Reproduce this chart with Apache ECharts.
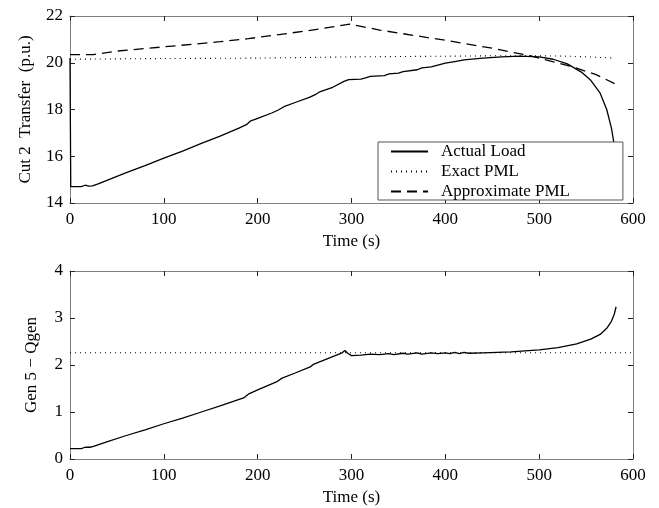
<!DOCTYPE html>
<html><head><meta charset="utf-8">
<script src="https://cdn.jsdelivr.net/npm/echarts@6/dist/echarts.min.js"></script>
<style>html,body{margin:0;padding:0;background:#fff}#c{width:659px;height:508px}</style>
</head><body><div id="c"></div>
<script>
// Top panel: Cut 2 Transfer (p.u.)
const loadT = [0,0.8,12,16,18,20,24,30,40,60,80,100,120,140,160,180,188,192,200,215,222,228,240,255,262,266,280,292,297,310,315,320,335,340,350,355,370,375,385,390,400,410,420,440,460,480,500,515,530,545,555,565,572,577,580,583];
const loadV = [20.2,14.7,14.7,14.76,14.78,14.72,14.73,14.82,14.98,15.3,15.6,15.92,16.22,16.55,16.86,17.2,17.35,17.5,17.62,17.85,17.98,18.12,18.3,18.52,18.65,18.75,18.95,19.2,19.28,19.3,19.35,19.42,19.45,19.52,19.56,19.62,19.7,19.78,19.82,19.88,19.98,20.05,20.12,20.2,20.25,20.28,20.25,20.15,19.95,19.6,19.25,18.7,18.0,17.2,16.5,15.5];
const exactT = [0,100,200,300,400,470,530,580];
const exactV = [20.15,20.18,20.2,20.25,20.28,20.3,20.28,20.2];
const approxT = [0,25,50,100,160,190,250,298,330,387,400,450,490,536,560,581];
const approxV = [20.35,20.35,20.5,20.68,20.9,21.03,21.35,21.65,21.4,21.04,20.96,20.62,20.3,19.82,19.5,19.1];
// Bottom panel: Gen 5 - Qgen
const qgenT = [0,12,16,18,21,25,40,60,80,100,120,140,160,185,190,200,220,226,240,256,260,280,290,293,296,300,310,320,330,340,345,355,360,370,375,385,392,400,405,410,415,420,425,440,470,500,520,540,555,565,572,577,580,582];
const qgenV = [0.22,0.22,0.25,0.27,0.25,0.27,0.37,0.5,0.62,0.75,0.87,1.0,1.13,1.3,1.38,1.47,1.64,1.72,1.83,1.96,2.02,2.18,2.26,2.31,2.25,2.2,2.21,2.23,2.22,2.24,2.22,2.25,2.23,2.26,2.23,2.26,2.24,2.26,2.24,2.27,2.24,2.27,2.25,2.26,2.28,2.32,2.37,2.45,2.55,2.65,2.78,2.93,3.08,3.24];
const qlimT = [0,600];
const qlimV = [2.26,2.26];
const xTicks = [0,100,200,300,400,500,600];
const topYTicks = [14,16,18,20,22];
const botYTicks = [0,1,2,3,4];
const legendNames = ['Actual Load','Exact PML','Approximate PML'];

const zip = (a,b) => a.map((t,i)=>[t,b[i]]);
const FONT = 'Liberation Serif';
const txt = {color:'#000', fontFamily:FONT, fontSize:17};
const boxLine = () => ({show:true, onZero:false, lineStyle:{color:'#808080', width:1}});
const tick = () => ({show:true, inside:true, length:5, lineStyle:{color:'#222', width:1}});

function xAx(grid, name, pos){
  const main = pos === 'bottom';
  return {type:'value', gridIndex:grid, position:pos, min:xTicks[0], max:xTicks[xTicks.length-1], interval:100,
    axisLine:boxLine(), axisTick:tick(), splitLine:{show:false},
    axisLabel:{show:main, margin:8, ...txt},
    name: main ? name : '', nameLocation:'middle', nameGap:30, nameTextStyle:txt};
}
function yAx(grid, ticks, name, pos, gap){
  const main = pos === 'left';
  return {type:'value', gridIndex:grid, position:pos, min:ticks[0], max:ticks[ticks.length-1], interval:ticks[1]-ticks[0],
    axisLine:boxLine(), axisTick:tick(), splitLine:{show:false},
    axisLabel:{show:main, margin:7, ...txt},
    name: main ? name : '', nameLocation:'middle', nameGap:gap, nameRotate:90, nameTextStyle:txt};
}
const black = '#000';
const chart = echarts.init(document.getElementById('c'), null, {renderer:'canvas'});
chart.setOption({
  animation:false,
  backgroundColor:'#fff',
  grid:[{left:70, right:26, top:16, height:187}, {left:70, right:26, top:271, height:188}],
  xAxis:[xAx(0,'Time (s)','bottom'), xAx(0,'','top'), xAx(1,'Time (s)','bottom'), xAx(1,'','top')],
  yAxis:[yAx(0,topYTicks,'Cut 2  Transfer  (p.u.)','left',36), yAx(0,topYTicks,'','right',0),
         yAx(1,botYTicks,'Gen 5 − Qgen','left',30), yAx(1,botYTicks,'','right',0)],
  legend:{left:378, top:142, orient:'vertical', data:legendNames, itemWidth:37, itemHeight:14, itemGap:3,
    padding:[1,53,0,12], backgroundColor:'#fff', borderColor:'#555', borderWidth:1, borderRadius:0,
    itemStyle:{opacity:0},
    textStyle:{...txt, padding:[0,0,0,8]}},
  series:[
    {name:legendNames[0], type:'line', xAxisIndex:0, yAxisIndex:0, data:zip(loadT,loadV), symbol:'none', z:3,
      lineStyle:{color:black, width:1.3}, itemStyle:{color:black}},
    {name:legendNames[1], type:'line', xAxisIndex:0, yAxisIndex:0, data:zip(exactT,exactV), symbol:'none', smooth:0.3,
      lineStyle:{color:black, width:1.1, type:[1,4]}, itemStyle:{color:black}},
    {name:legendNames[2], type:'line', xAxisIndex:0, yAxisIndex:0, data:zip(approxT,approxV), symbol:'none',
      lineStyle:{color:black, width:1.3, type:[10,6]}, itemStyle:{color:black}},
    {name:'Qgen', type:'line', xAxisIndex:2, yAxisIndex:2, data:zip(qgenT,qgenV), symbol:'none',
      lineStyle:{color:black, width:1.3}},
    {name:'Qlim', type:'line', xAxisIndex:2, yAxisIndex:2, data:zip(qlimT,qlimV), symbol:'none',
      lineStyle:{color:black, width:1.1, type:[1,4]}}
  ]
});
</script></body></html>
